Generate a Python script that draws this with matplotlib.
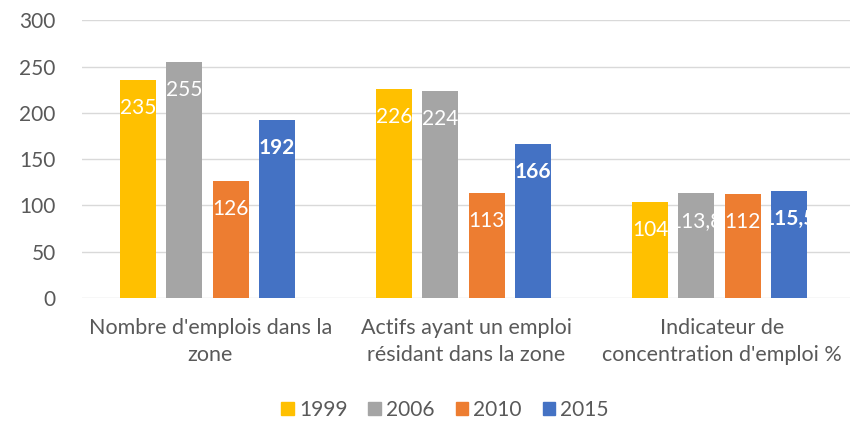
import matplotlib
matplotlib.use("Agg")
import matplotlib.pyplot as plt
import numpy as np

categories = ["Nombre d'emplois dans la\nzone",
              "Actifs ayant un emploi\nrésidant dans la zone",
              "Indicateur de\nconcentration d'emploi %"]
years = ["1999", "2006", "2010", "2015"]
values = {
    "1999": [235, 226, 104],
    "2006": [255, 224, 113.8],
    "2010": [126, 113, 112],
    "2015": [192, 166, 115.5],
}
labels = {
    "1999": ["235", "226", "104"],
    "2006": ["255", "224", "113,8"],
    "2010": ["126", "113", "112"],
    "2015": ["192", "166", "115,5"],
}
colors = ["#FFC000", "#A5A5A5", "#ED7D31", "#4472C4"]
yticks = [0, 50, 100, 150, 200, 250, 300]

plt.rcParams['font.family'] = ['Lato', 'DejaVu Sans']

fig = plt.figure(figsize=(8.56, 4.21), dpi=100)
ax = fig.add_axes([0.096, 0.292, 0.897, 0.660])

x = np.arange(len(categories))
width = 0.141
step = 0.181
for i, yr in enumerate(years):
    pos = x + (i - 1.5) * step - 0.01
    bars = ax.bar(pos, values[yr], width=width, color=colors[i], zorder=3)
    for b, lab in zip(bars, labels[yr]):
        t = ax.annotate(lab, (b.get_x() + b.get_width() / 2, b.get_height()),
                        xytext=(0, -28), textcoords="offset pixels",
                        ha="center", va="center", color="white", fontsize=15,
                        fontweight="bold" if yr == "2015" else "normal",
                        zorder=4)
        t.set_clip_path(b)

ax.set_xlim(-0.5, 2.5)
ax.set_ylim(0, 300)
ax.set_yticks(yticks)
ax.set_yticklabels([str(v) for v in yticks])
ax.yaxis.grid(True, color="#D9D9D9", linewidth=1, zorder=0)
ax.set_axisbelow(True)
for s in ax.spines.values():
    s.set_visible(False)
ax.tick_params(axis="both", length=0, colors="#595959", labelsize=15)
ax.tick_params(axis="y", pad=19)
ax.set_xticks(x)
ax.set_xticklabels(categories, linespacing=1.45, fontsize=15.5)
ax.tick_params(axis="x", pad=14)

handles = [plt.Rectangle((0, 0), 1, 1, color=c) for c in colors]
leg = fig.legend(handles, years, loc="center", bbox_to_anchor=(0.52, 0.027),
                 ncol=4, frameon=False, fontsize=15, handlelength=0.6,
                 handleheight=0.6, handletextpad=0.25, columnspacing=1.0)
for t in leg.get_texts():
    t.set_color("#595959")

fig.savefig("out.png", dpi=100)
